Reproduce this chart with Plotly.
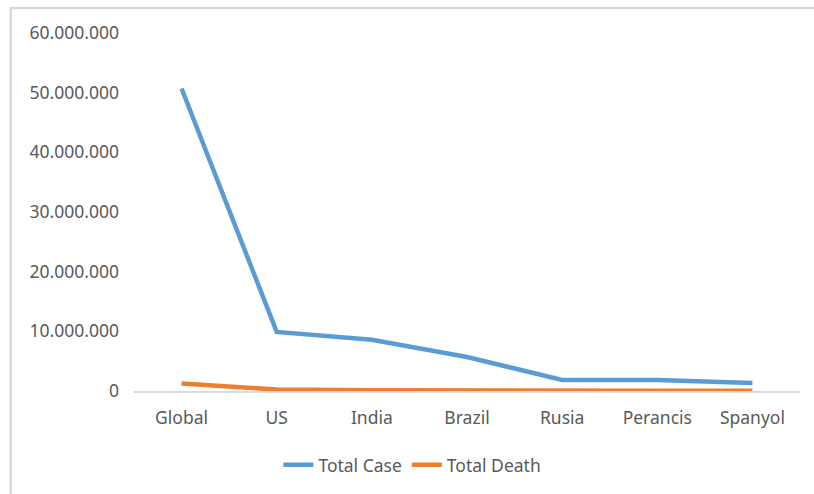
import plotly.graph_objects as go

countries = ["Global", "US", "India", "Brazil", "Rusia", "Perancis", "Spanyol"]
total_case = [50700000, 9900000, 8600000, 5700000, 1840000, 1840000, 1340000]
total_death = [1260000, 240000, 130000, 160000, 32000, 43000, 40000]
y_ticks = [0, 10000000, 20000000, 30000000, 40000000, 50000000, 60000000]
y_tick_labels = ["0", "10.000.000", "20.000.000", "30.000.000",
                 "40.000.000", "50.000.000", "60.000.000"]

font_family = "Noto Sans, Open Sans, sans-serif"
text_color = "#595959"
fs = 17.5

fig = go.Figure()
fig.add_trace(go.Scatter(x=countries, y=total_case, name="Total Case",
                         mode="lines", line=dict(color="#5B9BD5", width=4.5)))
fig.add_trace(go.Scatter(x=countries, y=total_death, name="Total Death",
                         mode="lines", line=dict(color="#ED7D31", width=4.5)))

fig.update_layout(
    width=814, height=494,
    margin=dict(l=134, r=14, t=33, b=103, autoexpand=False),
    paper_bgcolor="white", plot_bgcolor="white",
    font=dict(family=font_family, size=fs, color=text_color),
    showlegend=True,
    legend=dict(orientation="h", x=0.418, xanchor="center",
                yref="container", y=0.059, yanchor="middle",
                font=dict(size=fs, color=text_color), itemwidth=30,
                tracegroupgap=0),
    xaxis=dict(showgrid=False, showline=True, linecolor="#D9D9D9", linewidth=1.5,
               ticks="", tickfont=dict(size=fs, color=text_color),
               ticklabelstandoff=10, range=[-0.5, 6.5]),
    yaxis=dict(range=[0, 60000000], tickvals=y_ticks, ticktext=y_tick_labels,
               showgrid=False, showline=False, zeroline=False, ticks="",
               tickfont=dict(size=fs, color=text_color), ticklabelstandoff=14),
    # outer chart frame: only its top and left edges fall inside the page
    shapes=[dict(type="rect", xref="paper", yref="paper",
                 x0=-0.185, x1=1.4, y0=-0.6, y1=1.0695,
                 line=dict(color="#D9D9D9", width=2.5), fillcolor="rgba(0,0,0,0)",
                 layer="below")],
)

fig.write_html("out.html")
